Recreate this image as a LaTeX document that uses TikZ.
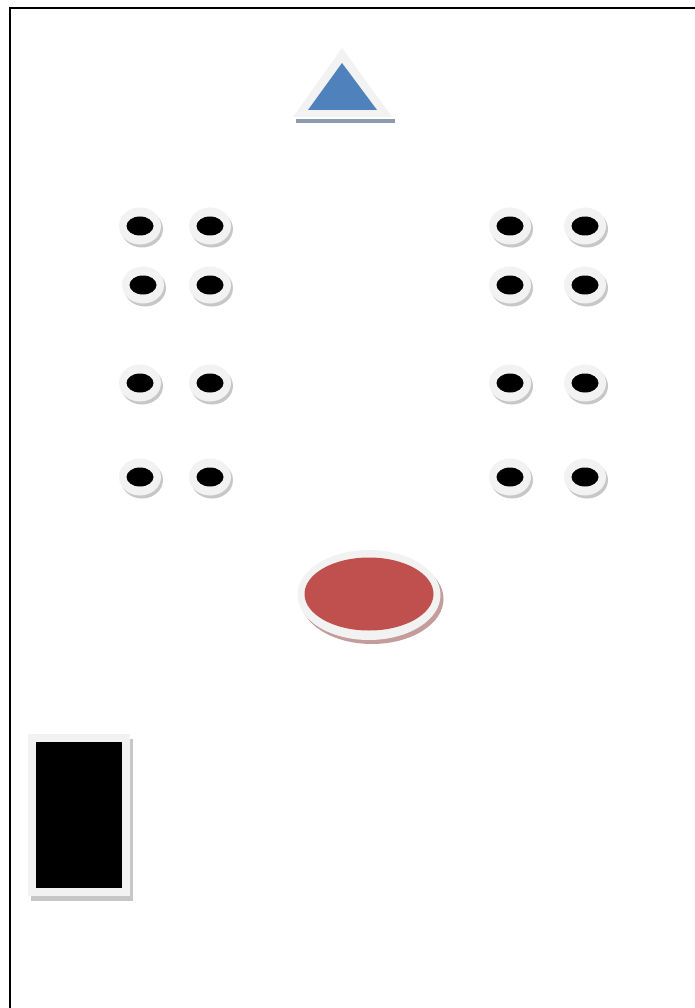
\documentclass[tikz,border=0pt]{standalone}
\usetikzlibrary{shapes.geometric,shadows}
\definecolor{ringgray}{HTML}{F2F2F2}
\definecolor{podblue}{HTML}{4F81BD}
\definecolor{podshade}{HTML}{8C9BB0}
\definecolor{tablered}{HTML}{C0504D}
\definecolor{tableshade}{HTML}{C49C9C}
\begin{document}
\begin{tikzpicture}[
  x=1pt, y=-1pt,
  ring/.style={ellipse,fill=ringgray,inner sep=0pt},
  seat/.style={ring,minimum width=42pt,minimum height=37pt,
    drop shadow={shadow xshift=2pt,shadow yshift=-3pt,fill=black!22,opacity=1}},
  pupil/.style={ellipse,fill=black,inner sep=0pt,minimum width=27pt,minimum height=19pt}
]
\useasboundingbox (0,0) rectangle (695,1008);
\draw[line width=2pt] (695,8) -- (10,8) -- (10,1008);
% podium
\fill[podshade] (296,119) rectangle (395,123);
\fill[ringgray] (293,117) -- (342,48) -- (392,117) -- cycle;
\fill[podblue] (308,110) -- (342,63) -- (377,110) -- cycle;
% seats
\foreach \n/\px/\py in {a/140/226, b/210/226, c/510/226, d/585/226,
                        e/143/285, f/210/285, g/510/285, h/585/285,
                        i/140/383, j/210/383, k/510/383, l/585/383,
                        m/140/477, n/210/477, o/510/477, p/585/477} {
  \node[seat] (seat\n) at (\px,\py) {};
  \node[pupil] (dot\n) at (seat\n) {};
}
% table
\node[ring,minimum width=143pt,minimum height=90pt,
  drop shadow={shadow xshift=3pt,shadow yshift=-4pt,fill=tableshade,opacity=1}] (table) at (369,595) {};
\node[ellipse,fill=tablered,inner sep=0pt,minimum width=129pt,minimum height=73pt] (tabletop) at (369,594) {};
% door
\node[rectangle,fill=ringgray,inner sep=0pt,minimum width=102pt,minimum height=162pt,
  drop shadow={shadow xshift=3pt,shadow yshift=-5pt,fill=black!22,opacity=1}] (door) at (79,815) {};
\node[rectangle,fill=black,inner sep=0pt,minimum width=86pt,minimum height=146pt] (doorpane) at (door) {};
\end{tikzpicture}
\end{document}
